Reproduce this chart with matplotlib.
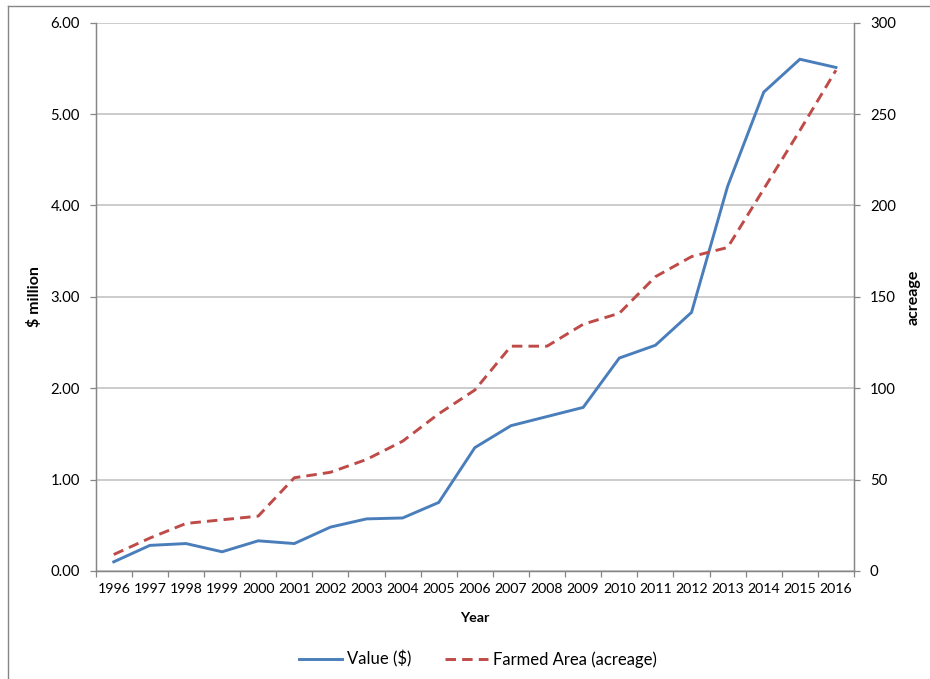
import matplotlib
matplotlib.use("Agg")
import matplotlib.pyplot as plt
from matplotlib.lines import Line2D

plt.rcParams['font.family'] = ['Lato', 'DejaVu Sans']

years = [str(y) for y in range(1996, 2017)]
value_musd = [0.10, 0.28, 0.30, 0.21, 0.33, 0.30, 0.48, 0.57, 0.58, 0.75, 1.35,
              1.59, 1.69, 1.79, 2.33, 2.47, 2.83, 4.21, 5.24, 5.60, 5.51]
acreage = [9, 18, 26, 28, 30, 51, 54, 61, 71, 86, 99,
           123, 123, 135, 141, 161, 172, 177, 209, 241, 274]

left_ticks = [0, 1, 2, 3, 4, 5, 6]
left_labels = ["0.00", "1.00", "2.00", "3.00", "4.00", "5.00", "6.00"]
right_ticks = [0, 50, 100, 150, 200, 250, 300]

blue = '#4A7EBB'
red = '#BE4B48'
grid_c = '#BEBEBE'
axis_c = '#868686'
fs = 10.7
dash = (3.6, 2.1)

fig = plt.figure(figsize=(9.3, 6.79), dpi=100)
ax = fig.add_axes([0.1029, 0.1591, 0.8154, 0.8075])
ax2 = ax.twinx()

x = list(range(len(years)))
ax.plot(x, value_musd, color=blue, lw=2.1, solid_joinstyle='miter', zorder=3)
ax2.plot(x, acreage, color=red, lw=2.1, dashes=dash, zorder=3)

ax.set_xlim(-0.5, len(years) - 0.5)
ax.set_ylim(0, 6)
ax2.set_ylim(0, 300)

ax.set_yticks(left_ticks)
ax.set_yticklabels(left_labels)
ax2.set_yticks(right_ticks)
ax.yaxis.grid(True, color=grid_c, lw=1.1)
ax.set_axisbelow(True)

ax.set_xticks(x)
ax.set_xticklabels(years)
ax.set_xticks([i - 0.5 for i in range(len(years) + 1)], minor=True)
ax.tick_params(axis='x', which='major', length=0, pad=9, labelsize=10.2)
ax.tick_params(axis='x', which='minor', length=4, color=axis_c, width=0.9)
ax.tick_params(axis='y', length=4, color=axis_c, width=0.9, pad=7.5, labelsize=fs)
ax2.tick_params(axis='y', length=4, color=axis_c, width=0.9, pad=7.5, labelsize=fs)

for a in (ax, ax2):
    for s in a.spines.values():
        s.set_color(axis_c)
        s.set_linewidth(0.9)
    a.spines['top'].set_visible(False)

ax.set_ylabel("$ million", fontsize=11.5, fontweight='bold', labelpad=6)
ax2.set_ylabel("acreage", fontsize=11.5, fontweight='bold', labelpad=8)
ax.set_xlabel("Year", fontsize=10.3, fontweight='bold', labelpad=12)

handles = [Line2D([], [], color=blue, lw=2.1),
           Line2D([], [], color=red, lw=2.1, dashes=dash)]
fig.legend(handles, ["Value ($)", "Farmed Area (acreage)"], loc='center',
           bbox_to_anchor=(0.514, 1 - 659 / 679), ncol=2, frameon=False,
           fontsize=12, handlelength=2.6, columnspacing=2.0, handletextpad=0.3)

# outer frame (left and top edges)
fig.add_artist(Line2D([7.5 / 930, 7.5 / 930], [0, 1 - 6 / 679], transform=fig.transFigure,
                      color=axis_c, lw=1))
fig.add_artist(Line2D([7.5 / 930, 1], [1 - 6 / 679, 1 - 6 / 679], transform=fig.transFigure,
                      color=axis_c, lw=1))

fig.savefig("out.png", dpi=100)
